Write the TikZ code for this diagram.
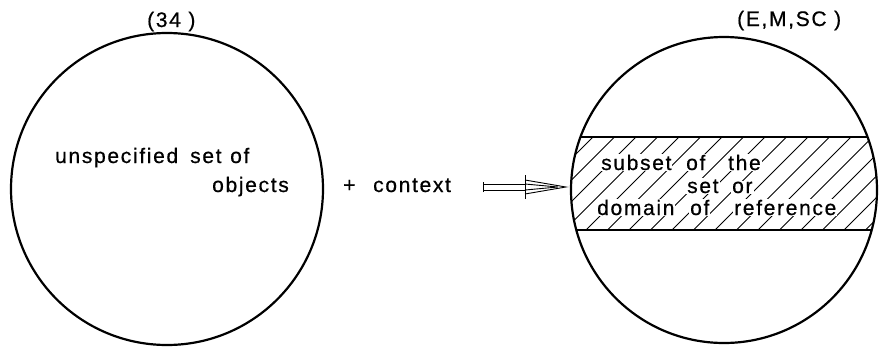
\documentclass[tikz,border=0pt]{standalone}
\usepackage{fontspec}
\setmainfont{Liberation Sans}[LetterSpace=8,FakeBold=0.6]
\usetikzlibrary{calc}
\begin{document}
\begin{tikzpicture}[x=1pt,y=-1pt,
  setcircle/.style={circle,draw,line width=2.2pt,inner sep=0pt},
  lbl/.style={font=\fontsize{21}{23}\selectfont,inner sep=0pt,anchor=base west},
  word/.style={lbl,fill=white,inner sep=1pt},
  hatch/.style={line width=0.9pt},
  band/.style={line width=1.8pt},
  shaft/.style={line width=0.9pt}]
\useasboundingbox (0,0) rectangle (879,346);

% the two sets
\node[setcircle,minimum size=312pt] (L) at (167,189) {};
\node[setcircle,minimum size=306pt] (R) at (724,190) {};

% labels above the circles
\node[lbl] (lt) at (147,27) {(34 )};
\node[lbl] (rt) at (737,26) {(E,M,SC )};

% text inside the left set
\node[lbl] (u1) at (55,163) {unspecified};
\node[lbl] (u2) at (190,163) {set};
\node[lbl] (u3) at (230,163) {of};
\node[lbl] (u4) at (212,192) {objects};

% plus context
\node[lbl] (plus) at (343,192) {+};
\node[lbl] (ctx) at (373,192) {context};

% hatched band clipped by the right circle
\begin{scope}
  \clip (724,190) circle (153);
  \clip (560,137) rectangle (890,230);
  \foreach \i in {0,...,20} {
    \draw[hatch] (480+21.5*\i,250) -- (480+21.5*\i+130,120);
  }
\end{scope}
\begin{scope}
  \clip (724,190) circle (153);
  \draw[band] (560,137) -- (890,137);
  \draw[band] (560,230) -- (890,230);
\end{scope}

% words on the band
\node[word] (s1) at (600,170) {subset};
\node[word] (s2) at (685,170) {of};
\node[word] (s3) at (727,170) {the};
\node[word] (s4) at (686,193) {set};
\node[word] (s5) at (731,193) {or};
\node[word] (s6) at (596,215) {domain};
\node[word] (s7) at (689,215) {of};
\node[word] (s8) at (733,215) {reference};

% double-shafted arrow from the context to the right set
\coordinate (a0) at (483,187);
\coordinate (a1) at (525,187);
\coordinate (tip) at ($(R.west)+(-4,-3)$);
\draw[shaft] ([yshift=-3]a0) -- ([yshift=-3]a1);
\draw[shaft] ([yshift=3]a0) -- ([yshift=3]a1);
\draw[shaft] ([yshift=-5]a0) -- ([yshift=5]a0);
\draw[shaft] ([yshift=-12]a1) -- ([yshift=12]a1);
\draw[shaft,line join=miter] ([yshift=-7]a1) -- (tip) -- ([yshift=7]a1);
\draw[shaft] ([yshift=-3]a1) -- ([xshift=-8]tip) -- ([yshift=3]a1);
\end{tikzpicture}
\end{document}
